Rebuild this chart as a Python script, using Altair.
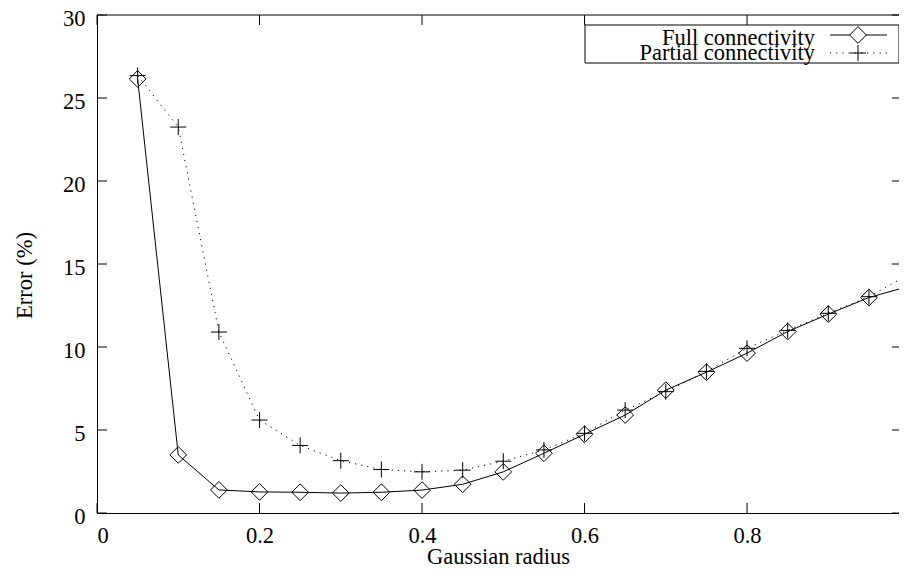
import altair as alt
import pandas as pd

# ---- data ----
radius = [0.05, 0.10, 0.15, 0.20, 0.25, 0.30, 0.35, 0.40, 0.45, 0.50,
          0.55, 0.60, 0.65, 0.70, 0.75, 0.80, 0.85, 0.90, 0.95, 1.00]
full_err = [26.15, 3.5, 1.39, 1.27, 1.25, 1.2, 1.25, 1.38, 1.73, 2.48,
            3.6, 4.74, 5.9, 7.4, 8.48, 9.63, 10.93, 11.98, 12.98, 13.67]
partial_err = [26.35, 23.25, 10.9, 5.6, 4.07, 3.15, 2.62, 2.48, 2.58, 3.12,
               3.8, 4.8, 6.2, 7.31, 8.53, 9.92, 11.0, 12.03, 13.03, 14.4]
series_names = ["Full connectivity", "Partial connectivity"]
x_ticks = [0, 0.2, 0.4, 0.6, 0.8]
y_ticks = [0, 5, 10, 15, 20, 25, 30]

W, H = 802, 498
FONT = "Liberation Serif"
FS = 22.5
PLUS = "M-1,0L1,0M0,-1L0,1"

df_full = pd.DataFrame({"x": radius, "y": full_err})
df_part = pd.DataFrame({"x": radius, "y": partial_err})
df_xt = pd.DataFrame({"x": x_ticks})
df_yt = pd.DataFrame({"y": y_ticks})

xscale = alt.Scale(domain=[0, 0.987], nice=False, zero=False)
yscale = alt.Scale(domain=[0, 30], nice=False)

xaxis = alt.Axis(values=x_ticks, format="~g", ticks=False, grid=False,
                 domain=True, domainColor="black", labelFont=FONT,
                 labelFontSize=FS, labelColor="black", labelPadding=11,
                 title="Gaussian radius", titleFont=FONT, titleFontSize=FS,
                 titleFontWeight="normal", titleColor="black",
                 titleBaseline="alphabetic", titleY=50)
yaxis = alt.Axis(values=y_ticks, format="d", ticks=False, grid=False,
                 domain=True, domainColor="black", labelFont=FONT,
                 labelFontSize=FS, labelColor="black", labelPadding=12,
                 labelOffset=3,
                 title="Error (%)", titleFont=FONT, titleFontSize=FS,
                 titleFontWeight="normal", titleColor="black", titlePadding=26,
                 titleY=260)

base_full = alt.Chart(df_full)
line_full = base_full.mark_line(color="black", strokeWidth=1, clip=True).encode(
    x=alt.X("x:Q", scale=xscale, axis=xaxis),
    y=alt.Y("y:Q", scale=yscale, axis=yaxis),
)
pts_full = base_full.mark_point(shape="diamond", filled=False, color="black",
                                strokeWidth=1, size=280, opacity=1, clip=True).encode(
    x="x:Q", y="y:Q")

base_part = alt.Chart(df_part)
line_part = base_part.mark_line(color="black", strokeWidth=1, strokeDash=[1.2, 5],
                                clip=True).encode(x="x:Q", y="y:Q")
pts_part = base_part.mark_point(shape=PLUS, filled=False, color="black",
                                strokeWidth=1, size=256, opacity=1, clip=True).encode(
    x="x:Q", y="y:Q")

# inward tick marks (gnuplot style) on all four sides
xt_bottom = alt.Chart(df_xt).mark_rule(color="black", strokeWidth=1).encode(
    x="x:Q", y=alt.value(H), y2=alt.value(H - 10))
xt_top = alt.Chart(df_xt).mark_rule(color="black", strokeWidth=1).encode(
    x="x:Q", y=alt.value(0), y2=alt.value(10))
yt_left = alt.Chart(df_yt).mark_rule(color="black", strokeWidth=1).encode(
    y="y:Q", x=alt.value(0), x2=alt.value(10))
yt_right = alt.Chart(df_yt).mark_rule(color="black", strokeWidth=1).encode(
    y="y:Q", x=alt.value(W - 7), x2=alt.value(W))

top_border = alt.Chart().mark_rule(color="black", strokeWidth=1).encode(
    x=alt.value(0), x2=alt.value(W), y=alt.value(0))

# legend (gnuplot-like key: label then sample)
leg_box = alt.Chart().mark_rect(fill="white", stroke="black", strokeWidth=1).encode(
    x=alt.value(488), x2=alt.value(802), y=alt.value(10), y2=alt.value(48))
leg_t1 = alt.Chart().mark_text(align="right", baseline="alphabetic", font=FONT,
                               fontSize=FS, color="black").encode(
    x=alt.value(718), y=alt.value(30), text=alt.value(series_names[0]))
leg_t2 = alt.Chart().mark_text(align="right", baseline="alphabetic", font=FONT,
                               fontSize=FS, color="black").encode(
    x=alt.value(718), y=alt.value(44.5), text=alt.value(series_names[1]))
leg_l1 = alt.Chart().mark_rule(color="black", strokeWidth=1).encode(
    x=alt.value(733), x2=alt.value(790), y=alt.value(20))
leg_l2 = alt.Chart().mark_rule(color="black", strokeWidth=1, strokeDash=[1.2, 5]).encode(
    x=alt.value(733), x2=alt.value(790), y=alt.value(38))
leg_p1 = alt.Chart().mark_point(shape="diamond", filled=True, fill="white",
                                stroke="black", strokeWidth=1, size=280, opacity=1).encode(
    x=alt.value(761), y=alt.value(20))
leg_p2 = alt.Chart().mark_point(shape=PLUS, filled=False, color="black",
                                strokeWidth=1, size=256, opacity=1).encode(
    x=alt.value(761), y=alt.value(38))

chart = alt.layer(
    line_full, line_part, pts_full, pts_part,
    xt_bottom, xt_top, yt_left, yt_right, top_border,
    leg_box, leg_t1, leg_t2, leg_l1, leg_l2, leg_p1, leg_p2,
).properties(
    width=W, height=H,
    autosize=alt.AutoSizeParams(type="none"),
    padding={"left": 89, "top": 7, "right": 0, "bottom": 54},
    background="white",
).configure_view(stroke="transparent")

chart.save("out.html", embed_options={"renderer": "svg", "actions": False})
